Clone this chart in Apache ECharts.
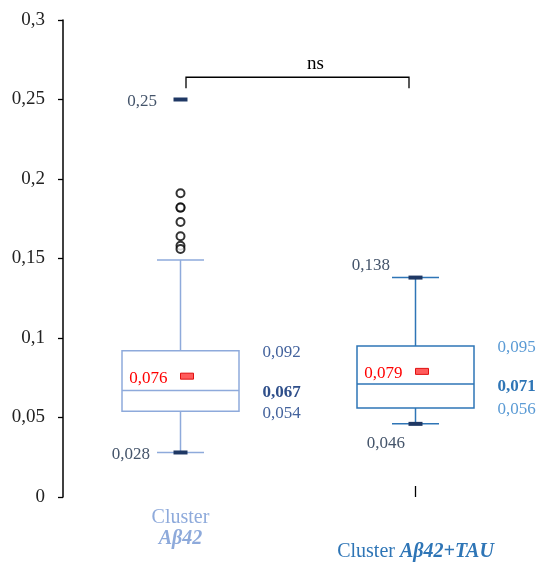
<!DOCTYPE html>
<html lang="it">
  <head>
    <meta charset="utf-8">
    <script src="https://cdn.jsdelivr.net/npm/echarts@6/dist/echarts.min.js"></script>
  </head>
  <body style="margin:0;">
    <div id="chart" style="width:538px;height:563px;"></div>
    <script>
      // Dati dei due cluster
      const categories = ['Cluster Aβ42', 'Cluster Aβ42+TAU'];
      const lowerWhisker = [0.028, 0.046];
      const q1 = [0.054, 0.056];
      const median = [0.067, 0.071];
      const q3 = [0.092, 0.095];
      const upperWhisker = [0.149, 0.138];
      const minValue = [0.028, 0.046];
      const maxValue = [0.25, 0.138];
      const mean = [0.076, 0.079];
      // Outlier del primo cluster
      const outliers = [0.191, 0.182, 0.182, 0.173, 0.164, 0.158, 0.156];
      // Parentesi di significativita'
      const bracket = [0.264, 0.257];
      const sigText = 'ns';
      const sigY = 0.273;

      const SERIF = 'Liberation Serif';
      const boxColor = ['#8EAADB', '#2E75B6'];
      const sideColor = ['#44639D', '#5B9BD5'];
      const sideBold = ['#2F4F8A', '#2E75B6'];
      const navy = '#1F3864';
      const slate = '#44546A';
      // posizione delle etichette min/max rispetto al centro
      const minPos = [[-30.5, 0], [-10.5, 18]];
      const maxPos = [[-23.5, 0], [-25.5, -14]];

      function fmt(v) { return String(v).replace('.', ','); }

      const boxData = categories.map((c, i) => [i, lowerWhisker[i], q1[i], median[i], q3[i], upperWhisker[i], minValue[i], maxValue[i], mean[i]]);

      function txt(x, y, text, fill, align, bold) {
        return {
          type: 'text', x: x, y: y + 2,
          style: { text: text, fill: fill, align: align, verticalAlign: 'middle', fontSize: 17, fontFamily: SERIF, fontWeight: bold ? 'bold' : 'normal' }
        };
      }

      function renderBox(params, api) {
        const i = api.value(0);
        const P = v => api.coord([i, v]);
        const cx = P(0)[0];
        const yLw = P(api.value(1))[1], yQ1 = P(api.value(2))[1], yMed = P(api.value(3))[1];
        const yQ3 = P(api.value(4))[1], yUw = P(api.value(5))[1];
        const yMin = P(api.value(6))[1], yMax = P(api.value(7))[1], yMean = P(api.value(8))[1];
        const col = boxColor[i];
        const ls = { stroke: col, lineWidth: 1.5, fill: null };
        const half = 58.5, cap = 23.5;
        const ch = [
          { type: 'line', shape: { x1: cx, y1: yQ3, x2: cx, y2: yUw }, style: ls },
          { type: 'line', shape: { x1: cx, y1: yQ1, x2: cx, y2: yLw }, style: ls },
          { type: 'rect', shape: { x: cx - half, y: yQ3, width: half * 2, height: yQ1 - yQ3 }, style: { stroke: col, lineWidth: 1.5, fill: '#fff' } },
          { type: 'line', shape: { x1: cx - half, y1: yMed, x2: cx + half, y2: yMed }, style: ls },
          { type: 'line', shape: { x1: cx - cap, y1: yUw, x2: cx + cap, y2: yUw }, style: ls },
          { type: 'line', shape: { x1: cx - cap, y1: yLw, x2: cx + cap, y2: yLw }, style: ls },
          { type: 'rect', shape: { x: cx - 7, y: yMin - 2, width: 14, height: 4 }, style: { fill: navy } },
          { type: 'rect', shape: { x: cx - 7, y: yMax - 2, width: 14, height: 4 }, style: { fill: navy } },
          { type: 'rect', shape: { x: cx, y: yMean - 3, width: 13, height: 6 }, style: { fill: '#FF5B5B', stroke: '#E01010', lineWidth: 1 } },
          txt(cx - 13, yMean, fmt(api.value(8)), '#FF0000', 'right'),
          txt(cx + 82, yQ3, fmt(api.value(4)), sideColor[i], 'left'),
          txt(cx + 82, yMed, fmt(api.value(3)), sideBold[i], 'left', true),
          txt(cx + 82, yQ1, fmt(api.value(2)), sideColor[i], 'left'),
          txt(cx + minPos[i][0], yMin + minPos[i][1], fmt(api.value(6)), slate, 'right'),
          txt(cx + maxPos[i][0], yMax + maxPos[i][1], fmt(api.value(7)), slate, 'right')
        ];
        return { type: 'group', children: ch };
      }

      function renderBracket(params, api) {
        const a = api.coord([api.value(0), api.value(2)]);
        const b = api.coord([api.value(1), api.value(2)]);
        const yLow = api.coord([0, api.value(3)])[1];
        const x1 = a[0] + 5.5, x2 = b[0] - 6.5;
        const yT = api.coord([0, sigY])[1];
        return {
          type: 'group',
          children: [
            { type: 'polyline', shape: { points: [[x1, yLow], [x1, a[1]], [x2, a[1]], [x2, yLow]] }, style: { stroke: '#000', lineWidth: 1.3, fill: null } },
            { type: 'text', x: (x1 + x2) / 2 + 18, y: yT + 1, style: { text: sigText, fill: '#000', align: 'center', verticalAlign: 'middle', fontSize: 19, fontFamily: SERIF } }
          ]
        };
      }

      const myChart = echarts.init(document.getElementById('chart'));
      const option = {
        animation: false,
        grid: { left: 63, right: 5, top: 20, bottom: 66 },
        xAxis: {
          type: 'category',
          data: categories,
          axisLine: { show: false },
          axisTick: { show: true, alignWithLabel: true, inside: true, length: 11, interval: (i) => i === 1, lineStyle: { color: '#000', width: 1.3 } },
          axisLabel: {
            interval: 0,
            margin: 10.5,
            formatter: (v, i) => i === 0 ? '{a|Cluster}\n{b|Aβ42}' : '{c|Cluster }{d|Aβ42+TAU}',
            rich: {
              a: { color: '#8EAADB', fontSize: 20, fontFamily: SERIF, lineHeight: 21 },
              b: { color: '#8EAADB', fontSize: 20, fontFamily: SERIF, lineHeight: 21, fontStyle: 'italic', fontWeight: 'bold' },
              c: { color: '#2E75B6', fontSize: 20, fontFamily: SERIF, lineHeight: 89 },
              d: { color: '#2E75B6', fontSize: 20, fontFamily: SERIF, lineHeight: 89, fontStyle: 'italic', fontWeight: 'bold' }
            }
          },
          splitLine: { show: false }
        },
        yAxis: {
          type: 'value',
          min: 0, max: 0.3, interval: 0.05,
          axisLine: { show: true, lineStyle: { color: '#000', width: 1.5 } },
          axisTick: { show: true, length: 5, lineStyle: { color: '#000', width: 1.3 } },
          axisLabel: { margin: 18, color: '#222', fontSize: 19, fontFamily: SERIF, padding: [4, 0, 0, 0], formatter: v => fmt(+v.toFixed(2)) },
          splitLine: { show: false }
        },
        series: [
          { type: 'custom', renderItem: renderBox, data: boxData, z: 2 },
          {
            type: 'scatter',
            data: outliers.map(v => [0, v]),
            symbol: 'emptyCircle', symbolSize: 8,
            itemStyle: { color: '#000', borderColor: '#000', borderWidth: 1.5 },
            z: 3
          },
          { type: 'custom', renderItem: renderBracket, data: [[0, 1, bracket[0], bracket[1]]], z: 2 }
        ]
      };
      myChart.setOption(option);
    </script>
  </body>
</html>
